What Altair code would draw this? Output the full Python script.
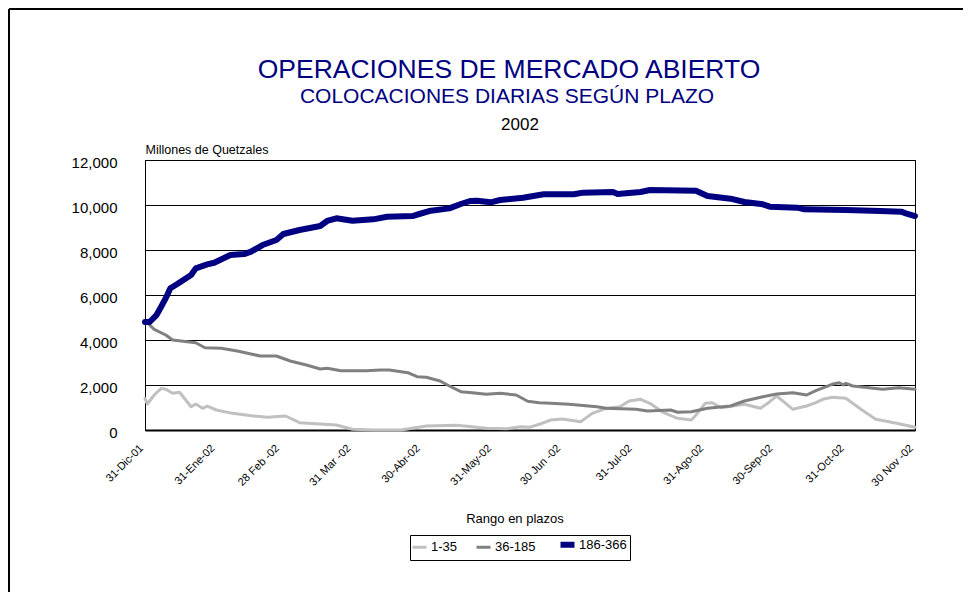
import altair as alt
import pandas as pd

# ---------------- data ----------------
series = ["1-35", "36-185", "186-366"]
colors = ["#c0c0c0", "#808080", "#000080"]
widths = [3, 3, 6]

# day offset counted from 31-Dic-01
dias_1_35 = [0, 1, 4, 7, 9, 12, 15, 20, 22, 25, 27, 31, 38, 47, 53, 61, 67, 83, 90, 99,
             111, 122, 135, 142, 148, 157, 163, 167, 171, 176, 181, 189, 194, 200, 206, 210, 215, 219, 225, 231,
             237, 239, 243, 246, 250, 260, 267, 271, 274, 277, 281, 287, 291, 294, 298, 304, 311, 317, 326, 334]
vals_1_35 = [1400, 1155, 1555, 1850, 1808, 1631, 1675, 1036, 1155, 964, 1066, 889, 740, 622, 564, 622, 324, 222, 31, 0,
             0, 178, 208, 147, 76, 58, 147, 127, 253, 444, 489, 369, 740, 964, 1036, 1289, 1364, 1186, 769, 520,
             444, 666, 1186, 1213, 991, 1142, 964, 1258, 1511, 1258, 920, 1066, 1213, 1364, 1453, 1408, 889, 475, 297, 120]

dias_36_185 = [0, 4, 9, 12, 22, 26, 33, 40, 46, 50, 57, 63, 70, 76, 79, 85, 96, 102, 106, 114,
               118, 122, 128, 132, 137, 142, 148, 154, 161, 166, 171, 176, 184, 196, 200, 213, 218, 228, 231, 237,
               244, 254, 260, 268, 274, 281, 287, 291, 298, 301, 303, 304, 307, 314, 320, 327, 334]
vals_36_185 = [4860, 4475, 4222, 4000, 3880, 3658, 3630, 3511, 3377, 3288, 3288, 3066, 2888, 2711, 2740, 2635, 2635, 2666, 2666, 2546,
               2368, 2342, 2177, 1955, 1702, 1658, 1586, 1631, 1555, 1280, 1213, 1186, 1142, 1036, 964, 920, 844, 889, 787, 813,
               964, 1066, 1289, 1480, 1600, 1658, 1555, 1747, 2031, 2102, 2000, 2075, 1955, 1880, 1808, 1880, 1808]

dias_186_366 = [0, 2, 5, 7, 9, 11, 14, 20, 22, 27, 30, 37, 43, 46, 51, 57, 60, 67, 76, 79,
                83, 90, 99, 105, 116, 119, 124, 132, 137, 141, 144, 150, 154, 164, 171, 173, 186, 190, 203, 205,
                215, 219, 239, 244, 254, 260, 268, 271, 283, 286, 304, 319, 328, 330, 334]
vals_186_366 = [4800, 4800, 5110, 5480, 5860, 6300, 6490, 6890, 7185, 7360, 7435, 7777, 7820, 7925, 8220, 8444, 8710, 8890, 9066, 9290,
                9408, 9302, 9363, 9480, 9510, 9600, 9746, 9850, 10044, 10177, 10190, 10120, 10222, 10324, 10444, 10475, 10475, 10548, 10577, 10488,
                10577, 10666, 10636, 10400, 10280, 10133, 10030, 9924, 9880, 9808, 9777, 9733, 9703, 9630, 9510]

tick_days = [0, 31, 59, 90, 120, 151, 181, 212, 243, 273, 304, 334]
tick_labels = ["31-Dic-01", "31-Ene-02", "28 Feb -02", "31 Mar -02", "30-Abr-02", "31-May-02",
               "30 Jun -02", "31-Jul-02", "31-Ago-02", "30-Sep-02", "31-Oct-02", "30 Nov -02"]
y_ticks = [0, 2000, 4000, 6000, 8000, 10000, 12000]

FONT = "Liberation Sans"

label_expr = "{}[indexof({}, datum.value)]".format(
    "[" + ",".join("'%s'" % t for t in tick_labels) + "]",
    "[" + ",".join(str(t) for t in tick_days) + "]")

x_enc = alt.X("dia:Q", scale=alt.Scale(domain=[0, 334], nice=False, zero=False),
              axis=alt.Axis(values=tick_days, labelExpr=label_expr, title=None, grid=False,
                            ticks=False, labelAngle=-45, labelAlign="right", labelBaseline="top",
                            labelPadding=12, labelOffset=-8, labelFontSize=11,
                            labelFont=FONT, labelColor="black", domainColor="black",
                            domainWidth=2, labelOverlap=False, labelFlush=False))
y_enc = alt.Y("valor:Q", scale=alt.Scale(domain=[0, 12000], nice=False),
              axis=alt.Axis(values=y_ticks, format=",d", title="Millones de Quetzales",
                            titleAngle=0, titleAlign="left", titleBaseline="alphabetic",
                            titleX=0, titleY=-7, titleFont=FONT, titleFontSize=12.5,
                            titleFontWeight="normal", titleColor="black",
                            grid=True, gridColor="black", gridWidth=1, ticks=False,
                            labelPadding=28, labelFontSize=15, labelFont=FONT,
                            labelColor="black", labelOffset=2, domainColor="black", domainWidth=1))
c_enc = alt.Color("serie:N", scale=alt.Scale(domain=series, range=colors),
                  legend=alt.Legend(title=None, orient="none", legendX=265, legendY=375,
                                    direction="horizontal", symbolType="stroke",
                                    symbolSize=196, labelFontSize=13, labelFont=FONT,
                                    labelColor="black", columnPadding=12, labelOffset=5,
                                    strokeColor="black", fillColor="white", padding=3,
                                    symbolStrokeWidth={"expr": "datum.value == '186-366' ? 6 : 3"}))

line_layers = []
for s, d, v, w in [(series[0], dias_1_35, vals_1_35, widths[0]),
                   (series[1], dias_36_185, vals_36_185, widths[1]),
                   (series[2], dias_186_366, vals_186_366, widths[2])]:
    dfi = pd.DataFrame({"serie": s, "dia": d, "valor": v})
    line_layers.append(
        alt.Chart(dfi).mark_line(strokeWidth=w, strokeJoin="round", strokeCap="round")
        .encode(x=x_enc, y=y_enc, color=c_enc, order=alt.Order("dia:Q"))
    )

one = pd.DataFrame({"a": [0]})

def txt(text, x, y, size, color):
    return alt.Chart(pd.DataFrame({"t": [text]})).mark_text(
        font=FONT, fontSize=size, color=color, align="center", baseline="alphabetic"
    ).encode(text="t:N", x=alt.value(x), y=alt.value(y))

t1 = txt("OPERACIONES DE MERCADO ABIERTO", 364, -82, 26.5, "#000080")
t2 = txt("COLOCACIONES DIARIAS SEGÚN PLAZO", 362, -57.5, 21, "#000080")
t3 = txt("2002", 375, -30.5, 17, "black")
t4 = txt("Rango en plazos", 370, 362.5, 13, "black")

frame_v = alt.Chart(one).mark_rule(color="black", strokeWidth=2).encode(
    x=alt.value(-136), y=alt.value(-151), y2=alt.value(432))
frame_h = alt.Chart(one).mark_rule(color="black", strokeWidth=2).encode(
    x=alt.value(-136), x2=alt.value(820), y=alt.value(-151))

chart = alt.layer(frame_v, frame_h, *line_layers, t1, t2, t3, t4).properties(
    width=770, height=270,
    padding={"left": 137, "top": 152, "right": 48, "bottom": 162},
    autosize=alt.AutoSizeParams(type="none"),
    background="white",
).configure_view(stroke="black", strokeWidth=1)

chart.save("out.html", embed_options={"renderer": "svg", "actions": False})
